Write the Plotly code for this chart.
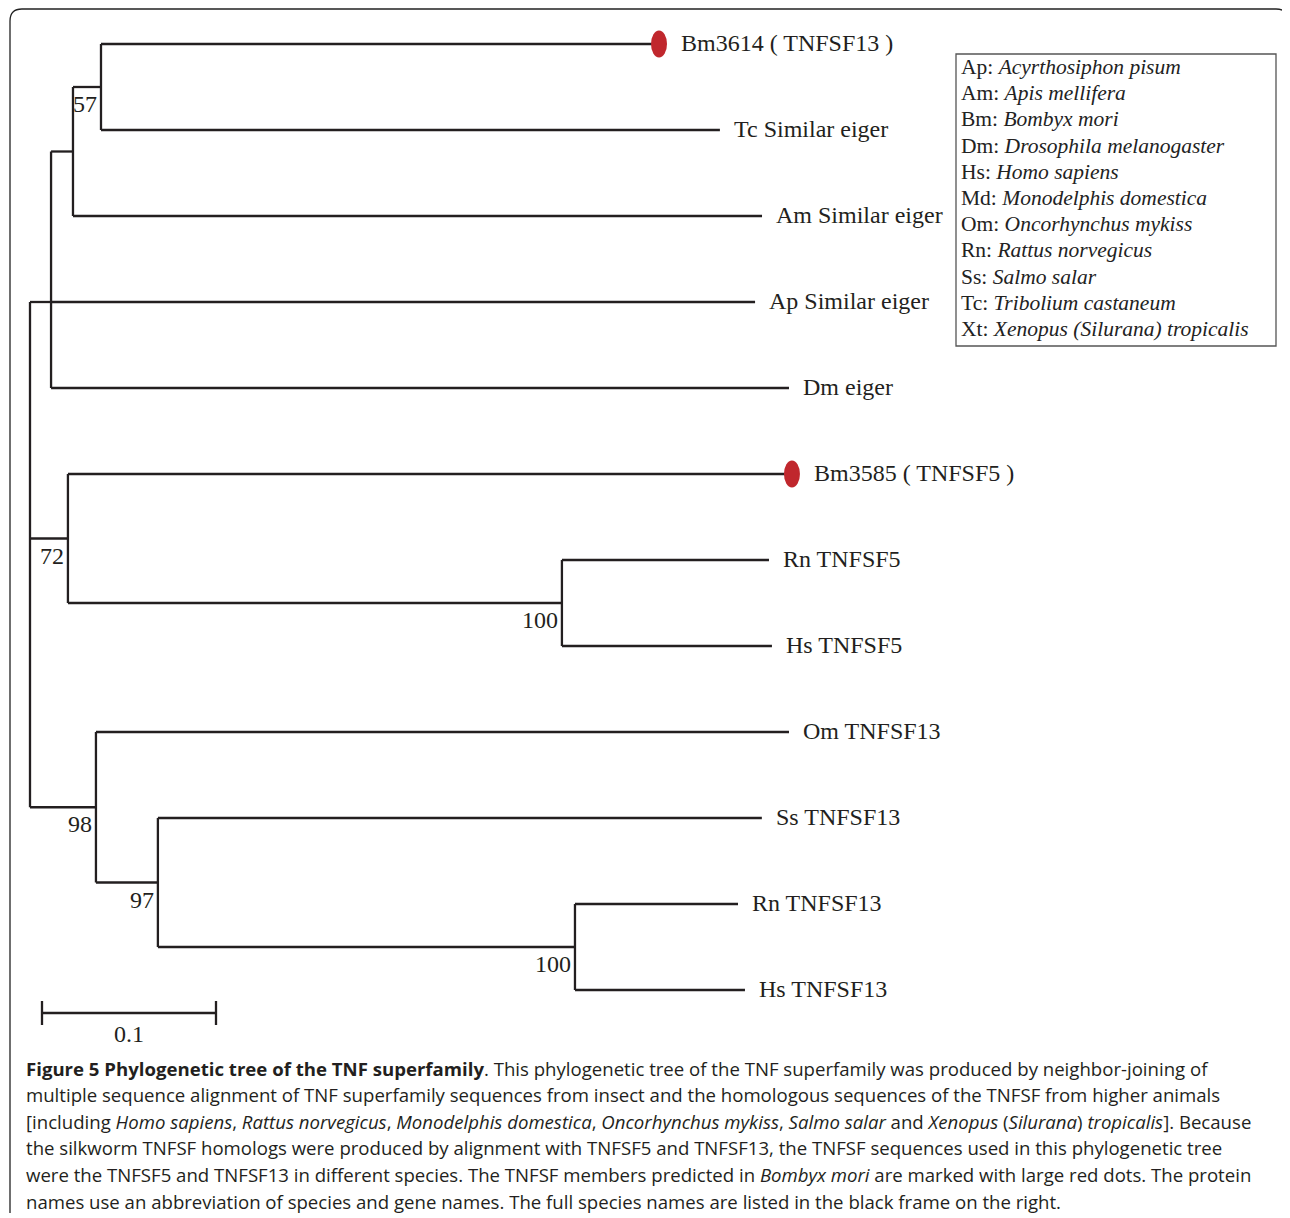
import plotly.graph_objects as go

# ---------------- data ----------------
node_names = ["root", "C", "B", "A",
              "Bm3614 ( TNFSF13 )", "Tc Similar eiger", "Am Similar eiger",
              "Ap Similar eiger", "Dm eiger",
              "D", "Bm3585 ( TNFSF5 )", "E", "Rn TNFSF5", "Hs TNFSF5",
              "F", "Om TNFSF13", "G", "Ss TNFSF13", "H", "Rn TNFSF13", "Hs TNFSF13"]
node_parent = [None, "root", "C", "B",
               "A", "A", "B",
               "C", "C",
               "root", "D", "D", "E", "E",
               "root", "F", "F", "G", "G", "H", "H"]
branch_length = [0.0, 0.0121, 0.0126, 0.0161,
                 0.3207, 0.3557, 0.3960,
                 0.4046, 0.4241,
                 0.0218, 0.4161, 0.2839, 0.1190, 0.1207,
                 0.0379, 0.3983, 0.0356, 0.3471, 0.2397, 0.0937, 0.0977]
bootstrap_nodes = ["A", "D", "E", "F", "G", "H"]
bootstrap_values = [57, 72, 100, 98, 97, 100]
marked_leaves = ["Bm3614 ( TNFSF13 )", "Bm3585 ( TNFSF5 )"]
scale_bar_length = 0.1
scale_bar_label = "0.1"

legend_abbr = ["Ap", "Am", "Bm", "Dm", "Hs", "Md", "Om", "Rn", "Ss", "Tc", "Xt"]
legend_species = ["Acyrthosiphon pisum", "Apis mellifera", "Bombyx mori",
                  "Drosophila melanogaster", "Homo sapiens", "Monodelphis domestica",
                  "Oncorhynchus mykiss", "Rattus norvegicus", "Salmo salar",
                  "Tribolium castaneum", "Xenopus (Silurana) tropicalis"]

caption_lines = [
    "<b>Figure 5 Phylogenetic tree of the TNF superfamily</b>. This phylogenetic tree of the TNF superfamily was produced by neighbor-joining of",
    "multiple sequence alignment of TNF superfamily sequences from insect and the homologous sequences of the TNFSF from higher animals",
    "[including <i>Homo sapiens</i>, <i>Rattus norvegicus</i>, <i>Monodelphis domestica</i>, <i>Oncorhynchus mykiss</i>, <i>Salmo salar</i> and <i>Xenopus</i> (<i>Silurana</i>) <i>tropicalis</i>]. Because",
    "the silkworm TNFSF homologs were produced by alignment with TNFSF5 and TNFSF13, the TNFSF sequences used in this phylogenetic tree",
    "were the TNFSF5 and TNFSF13 in different species. The TNFSF members predicted in <i>Bombyx mori</i> are marked with large red dots. The protein",
    "names use an abbreviation of species and gene names. The full species names are listed in the black frame on the right.",
]

# ---------------- layout geometry ----------------
OFF = 8            # body margin of the page
W, H = 1282, 1210
X0_PX, PX_PER_UNIT = 30, 1740.0   # root position and pixels per distance unit
Y0_PX, PX_PER_LEAF = 44, 86.0


def px_x(px):
    return (px - OFF) / W


def px_y(py):
    return 1 - (py - OFF) / H


xmin = -(X0_PX - OFF) / PX_PER_UNIT
xmax = xmin + W / PX_PER_UNIT
ytop = (OFF - Y0_PX) / PX_PER_LEAF
ybot = (OFF + H - Y0_PX) / PX_PER_LEAF

# ---------------- tree layout ----------------
children = {n: [] for n in node_names}
for n, p in zip(node_names, node_parent):
    if p is not None:
        children[p].append(n)
bl = dict(zip(node_names, branch_length))

xpos, ypos = {}, {}
leaf_counter = [0]


def place(n, x):
    xpos[n] = x + bl[n]
    for c in children[n]:
        place(c, xpos[n])
    if not children[n]:
        ypos[n] = leaf_counter[0]
        leaf_counter[0] += 1
    else:
        ch = children[n]
        if len(ch) % 2 == 1 and len(ch) > 1:
            ypos[n] = ypos[ch[len(ch) // 2]]
        else:
            ypos[n] = (ypos[ch[0]] + ypos[ch[-1]]) / 2


place("root", 0.0)

lx, ly = [], []
for n, p in zip(node_names, node_parent):
    if p is not None:
        lx += [xpos[p], xpos[n], None]
        ly += [ypos[n], ypos[n], None]
    ch = children[n]
    if ch:
        lx += [xpos[n], xpos[n], None]
        ly += [ypos[ch[0]], ypos[ch[-1]], None]

LINE = "#231f20"
fig = go.Figure()
fig.add_trace(go.Scatter(x=lx, y=ly, mode="lines",
                         line=dict(color=LINE, width=2.3),
                         hoverinfo="skip", showlegend=False))

# scale bar
sb_x0 = 12 / PX_PER_UNIT
sb_y = (1013 - Y0_PX) / PX_PER_LEAF
tick = 12 / PX_PER_LEAF
fig.add_trace(go.Scatter(
    x=[sb_x0, sb_x0 + scale_bar_length, None, sb_x0, sb_x0, None,
       sb_x0 + scale_bar_length, sb_x0 + scale_bar_length],
    y=[sb_y, sb_y, None, sb_y - tick, sb_y + tick, None, sb_y - tick, sb_y + tick],
    mode="lines", line=dict(color=LINE, width=2.3), hoverinfo="skip", showlegend=False))

annotations = []
shapes = []
SERIF = "Liberation Serif, Times New Roman, serif"

# leaf labels & red dots
for n in node_names:
    if children[n]:
        continue
    if n in marked_leaves:
        dx = 20
        shapes.append(dict(type="circle", xref="x", yref="y",
                           x0=xpos[n] - 8 / PX_PER_UNIT, x1=xpos[n] + 8 / PX_PER_UNIT,
                           y0=ypos[n] - 13.5 / PX_PER_LEAF, y1=ypos[n] + 13.5 / PX_PER_LEAF,
                           fillcolor="#c0272d", line=dict(width=0), layer="above"))
    else:
        dx = 12
    annotations.append(dict(x=xpos[n], y=ypos[n], xref="x", yref="y", text=n,
                            showarrow=False, xanchor="left", yanchor="middle",
                            xshift=dx, yshift=1,
                            font=dict(family=SERIF, size=24, color=LINE)))

# bootstrap values
for n, v in zip(bootstrap_nodes, bootstrap_values):
    annotations.append(dict(x=xpos[n], y=ypos[n], xref="x", yref="y", text=str(v),
                            showarrow=False, xanchor="right", yanchor="top",
                            xshift=-2, yshift=-2,
                            font=dict(family=SERIF, size=24, color=LINE)))

# scale label
annotations.append(dict(x=sb_x0 + scale_bar_length / 2, y=sb_y, xref="x", yref="y",
                        text=scale_bar_label, showarrow=False, xanchor="center",
                        yanchor="top", yshift=-6,
                        font=dict(family=SERIF, size=24, color=LINE)))

# species legend box
shapes.append(dict(type="rect", xref="paper", yref="paper",
                   x0=px_x(956), x1=px_x(1276), y0=px_y(346), y1=px_y(54),
                   line=dict(color="#555555", width=1.3), fillcolor="rgba(0,0,0,0)"))
for i, (a, s) in enumerate(zip(legend_abbr, legend_species)):
    annotations.append(dict(x=px_x(959), y=px_y(67 + 26.2 * i), xref="paper", yref="paper",
                            text=f"{a}: <i>{s}</i>", showarrow=False,
                            xanchor="left", yanchor="middle",
                            font=dict(family=SERIF, size=21.5, color="#222222")))

# caption
for i, t in enumerate(caption_lines):
    annotations.append(dict(x=px_x(24), y=px_y(1068 + 26.6 * i), xref="paper", yref="paper",
                            text=t, showarrow=False, xanchor="left", yanchor="middle",
                            font=dict(family="Open Sans, sans-serif", size=18.6,
                                      color="#231f20")))

# outer rounded frame
fx0, fy0, fx1, fy1, r = px_x(10), px_y(9), px_x(1288), px_y(1213), 12
rx, ry = r / W, r / H
frame_path = (f"M {fx0},{fy1} L {fx0},{fy0 - ry} Q {fx0},{fy0} {fx0 + rx},{fy0} "
              f"L {fx1 - rx},{fy0} Q {fx1},{fy0} {fx1},{fy0 - ry}")
shapes.append(dict(type="path", xref="paper", yref="paper", path=frame_path,
                   line=dict(color="#222222", width=1.3)))

fig.update_layout(
    width=W, height=H, margin=dict(l=0, r=0, t=0, b=0),
    paper_bgcolor="white", plot_bgcolor="white",
    xaxis=dict(range=[xmin, xmax], visible=False, fixedrange=True),
    yaxis=dict(range=[ybot, ytop], visible=False, fixedrange=True),
    annotations=annotations, shapes=shapes, showlegend=False,
)

fig.write_html("out.html")
